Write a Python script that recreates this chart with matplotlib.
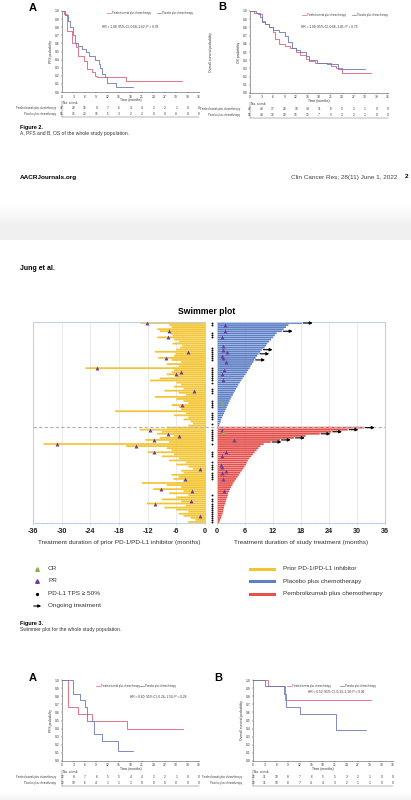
import numpy as np
import matplotlib
matplotlib.use("Agg")
import matplotlib.pyplot as plt
from matplotlib.lines import Line2D
from matplotlib.patches import FancyArrowPatch

plt.rcParams['font.family'] = ['Liberation Sans', 'DejaVu Sans']

# ---------------- swimmer plot data (rows from top to bottom) ----------------
# placebo plus chemotherapy, study treatment duration (months)
pbo_dur = [18.2, 15.3, 14.8, 14.3, 13.9, 12.8, 12.4, 12.0, 11.6, 11.2, 10.8, 10.5, 10.2,
           9.6, 9.3, 8.9, 8.6, 8.3, 8.0, 7.8, 7.5, 7.2, 7.0, 6.7, 6.4, 6.1, 5.8, 5.5,
           5.2, 4.9, 4.6, 4.4, 4.1, 3.9, 3.6, 3.4, 3.1, 2.9, 2.7, 2.5, 2.3, 2.1, 1.9,
           1.7, 1.5, 1.3, 1.1, 0.9, 0.8, 0.6, 0.5]
# prior PD-1/PD-L1 inhibitor duration (months)
pbo_prior = [13.5, 7.5, 7.0, 10.0, 9.5, 7.2, 6.8, 10.0, 6.5, 5.5, 6.8, 4.8, 5.2, 6.0, 10.5,
             6.2, 6.5, 9.8, 7.0, 5.0, 8.0, 5.5, 25.0, 6.5, 7.0, 8.0, 5.8, 9.5, 11.5, 6.0,
             5.0, 6.5, 4.5, 8.5, 5.5, 4.0, 10.5, 6.0, 4.5, 3.5, 7.0, 5.5, 5.0, 18.8, 4.0,
             6.5, 3.5, 4.5, 3.0, 2.5, 3.5]
pbo_ongoing = [0, 4, 13, 15, 18]
pbo_pr_rows = [1, 4, 7, 11, 13, 14, 16, 17, 19, 23, 25, 28]
pbo_pr_x = [1.7, 1.8, 1.0, 1.2, 1.3, 2.1, 1.0, 1.2, 2.0, 1.5, 1.0, 1.2]
pbo_cr_rows = [39]
pbo_cr_x = [1.0]
pbo_prior_pr_rows = [0, 4, 7, 14, 17, 22, 24, 25, 33, 40]
pbo_prior_pr_x = [-12.2, -7.6, -7.8, -3.5, -8.2, -22.7, -5.0, -6.0, -2.3, -4.9]
pbo_tps = [0, 1, 5, 6, 7, 12, 13, 14, 15, 16, 17, 18, 22, 23, 24, 25, 26, 27, 28, 29,
           32, 33, 34, 38, 39, 40, 41, 44, 45, 46, 47, 49]

# pembrolizumab plus chemotherapy
pem_dur = [31.5, 28.0, 24.5, 22.0, 19.0, 16.5, 13.5, 11.5, 10.0, 9.3, 8.9, 8.5, 8.1, 7.7,
           7.3, 6.9, 6.6, 6.4, 6.2, 5.9, 5.6, 5.3, 5.0, 4.7, 4.4, 4.1, 3.8, 3.5, 3.3, 3.0,
           2.8, 2.6, 2.4, 2.3, 2.2, 2.0, 1.9, 1.8, 1.6, 1.5, 1.4, 1.3, 1.2, 1.0, 0.9, 0.7, 0.5]
pem_prior = [8.0, 13.6, 9.0, 10.0, 6.5, 9.5, 12.5, 7.5, 33.8, 16.5, 8.0, 7.0, 12.0, 6.5,
             9.0, 5.5, 7.5, 4.0, 6.0, 3.5, 2.5, 5.0, 4.5, 7.0, 5.5, 6.6, 4.5, 13.2, 8.0,
             5.0, 10.8, 4.5, 7.5, 3.5, 6.0, 9.0, 5.0, 12.2, 4.0, 8.5, 6.0, 3.5, 5.5, 4.5,
             3.0, 2.0, 3.5]
pem_ongoing = [0, 1, 2, 3, 5, 6, 7]
pem_pr_rows = [1, 6, 12, 14, 18, 19, 21, 22, 25, 31]
pem_pr_x = [1.0, 3.7, 1.9, 1.0, 0.8, 1.0, 1.9, 1.0, 1.2, 1.4]
pem_cr_rows = [2]
pem_cr_x = [1.2]
pem_prior_pr_rows = [1, 3, 4, 6, 8, 9, 12, 20, 25, 30, 31, 36, 37, 43]
pem_prior_pr_x = [-11.5, -7.8, -5.4, -10.6, -31.0, -14.5, -10.6, -1.0, -4.2, -9.3, -2.8,
                  -3.0, -10.5, -1.0]
pem_tps = [1, 2, 3, 4, 5, 6, 8, 12, 13, 14, 17, 18, 19, 20, 22, 23, 24, 25, 33, 35, 36,
           37, 38, 39, 40, 41, 42, 43, 44, 45, 46]

swim_ticks_left = [-36, -30, -24, -18, -12, -6, 0]
swim_ticks_right = [0, 6, 12, 18, 24, 30, 36]

# ---------------- Kaplan-Meier data ----------------
km_months = list(range(0, 37, 3))
# Figure 2A, PFS whole population
a1_pem_t = [0, 0.5, 1.2, 2.6, 3.7, 4.3, 5.7, 6.7, 8.0, 8.7, 9.2, 16.8, 31.5]
a1_pem_s = [1.0, 0.96, 0.75, 0.6, 0.55, 0.45, 0.38, 0.28, 0.25, 0.2, 0.18, 0.13, 0.13]
a1_pbo_t = [0, 0.9, 1.5, 2.2, 3.0, 3.5, 4.2, 5.2, 6.3, 7.0, 8.7, 9.6, 10.0, 10.5, 11.4,
            11.8, 14.2, 18.6]
a1_pbo_s = [1.0, 0.95, 0.88, 0.8, 0.7, 0.6, 0.57, 0.53, 0.49, 0.45, 0.4, 0.35, 0.3, 0.22,
            0.18, 0.11, 0.06, 0.06]
a1_risk_pem = [47, 29, 16, 9, 7, 6, 4, 4, 2, 2, 1, 0, 0]
a1_risk_pbo = [51, 36, 23, 15, 5, 3, 2, 2, 0, 0, 0, 0, 0]
# Figure 2B, OS whole population
b1_pem_t = [0, 1.0, 2.0, 3.0, 4.0, 5.0, 6.0, 6.5, 7.5, 9.0, 10.5, 12.0, 13.0, 14.5, 15.5,
            17.0, 21.0, 22.5, 24.0, 31.6]
b1_pem_s = [1.0, 0.98, 0.96, 0.88, 0.84, 0.8, 0.74, 0.66, 0.6, 0.57, 0.55, 0.5, 0.46,
            0.42, 0.39, 0.36, 0.33, 0.3, 0.25, 0.25]
b1_pbo_t = [0, 1.5, 2.5, 3.0, 4.0, 5.0, 6.0, 7.5, 9.0, 10.0, 11.0, 12.0, 13.0, 14.5, 15.5,
            17.5, 20.0, 23.0, 30.0]
b1_pbo_s = [1.0, 0.97, 0.93, 0.87, 0.84, 0.8, 0.77, 0.74, 0.7, 0.62, 0.55, 0.52, 0.5,
            0.45, 0.4, 0.37, 0.35, 0.29, 0.29]
b1_risk_pem = [47, 43, 37, 28, 19, 14, 11, 6, 5, 2, 1, 0, 0]
b1_risk_pbo = [51, 48, 39, 29, 15, 12, 7, 5, 3, 2, 1, 0, 0]
# subgroup panels at the bottom of the page
a2_pem_t = [0, 1.7, 4.1, 7.9, 17.0, 31.7]
a2_pem_s = [1.0, 0.67, 0.58, 0.5, 0.4, 0.4]
a2_pbo_t = [0, 3.0, 4.8, 6.1, 6.7, 8.5, 10.5, 14.8, 18.6]
a2_pbo_s = [1.0, 0.83, 0.75, 0.67, 0.5, 0.33, 0.25, 0.125, 0.125]
a2_risk_pem = [12, 8, 7, 6, 5, 5, 4, 4, 2, 2, 1, 0, 0]
a2_risk_pbo = [12, 10, 6, 4, 1, 1, 1, 0, 0, 0, 0, 0, 0]
b2_pem_t = [0, 3.8, 8.1, 30.4]
b2_pem_s = [1.0, 0.92, 0.75, 0.75]
b2_pbo_t = [0, 3.0, 8.0, 8.5, 12.0, 21.4, 29.0]
b2_pbo_s = [1.0, 0.92, 0.83, 0.67, 0.58, 0.38, 0.38]
b2_risk_pem = [12, 11, 10, 8, 7, 6, 5, 5, 3, 2, 1, 0, 0]
b2_risk_pbo = [12, 11, 10, 8, 7, 4, 4, 3, 2, 1, 1, 0, 0]

# colours
YELLOW = '#f3c431'
BLUE = '#5f80c6'
RED = '#e5504c'
PURPLE = '#6a3d9a'
GREEN = '#86b24a'
FRAME = '#b9d0e8'
KM_RED = '#e0607a'
KM_BLUE = '#6a78b8'

W, H = 411, 800
fig = plt.figure(figsize=(W / 100, H / 100), dpi=100)
fig.patch.set_facecolor('white')


def fx(px):
    return px / W


def fy(py):
    return 1 - py / H


def add_ax(x0, y0, x1, y1):
    return fig.add_axes([x0 / W, 1 - y1 / H, (x1 - x0) / W, (y1 - y0) / H])


def km_panel(box, label, lpos, pem_t, pem_s, pbo_t, pbo_s, hr, hr_pos, ylab, risk_pem,
             risk_pbo, leg_x, leg_y, outer=None, lab_x=-1.5):
    ax = add_ax(*box)
    ax.step(pem_t, pem_s, where='post', color=KM_RED, lw=0.6, clip_on=False)
    ax.step(pbo_t, pbo_s, where='post', color=KM_BLUE, lw=0.6, clip_on=False)
    ax.set_xlim(0, 36)
    ax.set_ylim(0, 1.0)
    ax.set_xticks(km_months)
    ax.set_yticks(np.round(np.arange(0, 1.01, 0.1), 1))
    ax.tick_params(labelsize=2.4, length=1, width=0.3, pad=0.8, colors='#333333')
    for s in ['top', 'right']:
        ax.spines[s].set_visible(False)
    for s in ['left', 'bottom']:
        ax.spines[s].set_linewidth(0.4)
        ax.spines[s].set_color('#555555')
    ax.set_ylabel(ylab, fontsize=2.4, labelpad=1, color='#333333')
    tr = ax.get_xaxis_transform()
    ax.text(18, -0.095, 'Time (months)', fontsize=2.4, ha='center', va='center',
            transform=tr, color='#333333')
    ax.text(0.2, -0.14, 'No. at risk', fontsize=2.3, va='center', transform=tr,
            color='#333333')
    for m, v1, v2 in zip(km_months, risk_pem, risk_pbo):
        ax.text(m, -0.2, str(v1), fontsize=2.3, ha='center', va='center', transform=tr,
                color='#333333')
        ax.text(m, -0.27, str(v2), fontsize=2.3, ha='center', va='center', transform=tr,
                color='#333333')
    ax.text(lab_x, -0.2, 'Pembrolizumab plus chemotherapy', fontsize=1.9, ha='right',
            va='center', transform=tr, color='#444444')
    ax.text(lab_x, -0.27, 'Placebo plus chemotherapy', fontsize=1.9, ha='right',
            va='center', transform=tr, color='#444444')
    ax.plot([0, 0], [-0.11, -0.31], transform=tr, color='#555555', lw=0.3, clip_on=False)
    ax.plot([0, 36], [-0.31, -0.31], transform=tr, color='#555555', lw=0.3, clip_on=False)
    ax.text(hr_pos[0], hr_pos[1], hr, fontsize=2.3, transform=ax.transAxes, color='#333333')
    for xa, col, txt in [(leg_x[0], KM_RED, 'Pembrolizumab plus chemotherapy'),
                         (leg_x[1], KM_BLUE, 'Placebo plus chemotherapy')]:
        ax.plot([xa, xa + 0.03], [leg_y, leg_y], color=col, lw=0.5,
                transform=ax.transAxes, clip_on=False)
        ax.text(xa + 0.038, leg_y, txt, fontsize=1.85, va='center',
                transform=ax.transAxes, color='#444444')
    if outer:
        ax.text(outer[0], 0.5, outer[1], rotation=90, fontsize=2.4, ha='center',
                va='center', transform=ax.transAxes, color='#333333')
    fig.text(fx(lpos[0]), fy(lpos[1]), label, fontsize=8, fontweight='bold',
             ha='left', va='center')
    return ax


# ---------------- Figure 2 (top of page) ----------------
km_panel((62, 11, 199, 92), 'A', (29, 8), a1_pem_t, a1_pem_s, a1_pbo_t, a1_pbo_s,
         'HR = 1.08; 95% CI, 0.68\u20131.62; P = 0.78', (0.29, 0.79), 'PFS probability',
         a1_risk_pem, a1_risk_pbo, (0.33, 0.69), 0.975)
km_panel((250, 11, 388, 93), 'B', (218, 7), b1_pem_t, b1_pem_s, b1_pbo_t, b1_pbo_s,
         'HR = 1.09; 95% CI, 0.66\u20131.81; P = 0.73', (0.37, 0.8), 'OS probability',
         b1_risk_pem, b1_risk_pbo, (0.375, 0.74), 0.95,
         outer=(-0.28, 'Overall survival probability'), lab_x=-2.6)

fig.text(fx(20), fy(127), 'Figure 2.', fontsize=4, fontweight='bold', va='center')
fig.text(fx(20), fy(134), 'A, PFS and B, OS of the whole study population.', fontsize=3.6,
         va='center', color='#333333')
fig.text(fx(20), fy(177), 'AACRJournals.org', fontsize=4.6, fontweight='bold', va='center')
fig.text(fx(397), fy(177), 'Clin Cancer Res; 28(11) June 1, 2022', fontsize=4.6,
         ha='right', va='center', color='#444444')
fig.text(fx(405), fy(177), '2', fontsize=4.6, fontweight='bold', va='center')

# page break band between the two pages
band = np.concatenate([np.linspace(1.0, 0.955, 22), np.full(18, 0.94)]).reshape(-1, 1)
grad = fig.add_axes([0, fy(240), 1, 40 / H])
grad.imshow(band, cmap='gray', vmin=0, vmax=1, aspect='auto', extent=[0, 1, 0, 1])
grad.axis('off')
bot = fig.add_axes([0, 0, 1, 8 / H])
bot.imshow(np.linspace(1.0, 0.95, 8).reshape(-1, 1), cmap='gray', vmin=0, vmax=1,
           aspect='auto', extent=[0, 1, 0, 1])
bot.axis('off')

fig.text(fx(20), fy(268), 'Jung et al.', fontsize=5, fontweight='bold', va='center')

# ---------------- Figure 3, swimmer plot ----------------
n_pbo, n_pem = len(pbo_dur), len(pem_dur)
n_all = n_pbo + n_pem
rows_pbo = np.arange(n_pbo)
rows_pem = np.arange(n_pbo, n_all)

axL = add_ax(33, 322, 205, 523)
axR = add_ax(217, 322, 385, 523)

bar_kw = dict(height=0.85, lw=0, zorder=2, snap=False, antialiased=True)
axL.barh(rows_pbo, -np.array(pbo_prior), color=YELLOW, **bar_kw)
axL.barh(rows_pem, -np.array(pem_prior), color=YELLOW, **bar_kw)
axL.scatter(pbo_prior_pr_x, rows_pbo[pbo_prior_pr_rows], marker='^', s=8, color=PURPLE,
            lw=0, zorder=4)
axL.scatter(pem_prior_pr_x, rows_pem[pem_prior_pr_rows], marker='^', s=8, color=PURPLE,
            lw=0, zorder=4)

axR.barh(rows_pbo, pbo_dur, color=BLUE, **bar_kw)
axR.barh(rows_pem, pem_dur, color=RED, **bar_kw)
axR.scatter(pbo_pr_x, rows_pbo[pbo_pr_rows], marker='^', s=8, color=PURPLE, lw=0, zorder=4)
axR.scatter(pem_pr_x, rows_pem[pem_pr_rows], marker='^', s=8, color=PURPLE, lw=0, zorder=4)
axR.scatter(pbo_cr_x, rows_pbo[pbo_cr_rows], marker='^', s=8, color=GREEN, lw=0, zorder=4)
axR.scatter(pem_cr_x, rows_pem[pem_cr_rows], marker='^', s=8, color=GREEN, lw=0, zorder=4)

for durs, rows, ongoing in [(pbo_dur, rows_pbo, pbo_ongoing), (pem_dur, rows_pem, pem_ongoing)]:
    for r in ongoing:
        axR.annotate('', xy=(durs[r] + 2.3, rows[r]), xytext=(durs[r] + 0.3, rows[r]),
                     arrowprops=dict(arrowstyle='-|>', color='black', lw=0.8,
                                     mutation_scale=4, shrinkA=0, shrinkB=0),
                     zorder=5, annotation_clip=False)

# PD-L1 TPS >= 50% dots in the gap between the two panels
tps_rows = list(rows_pbo[pbo_tps]) + list(rows_pem[pem_tps])
axR.scatter([-1.1] * len(tps_rows), tps_rows, s=1.8, color='black', lw=0, clip_on=False,
            zorder=5)

for ax, lim, ticks in [(axL, (-36, 0), swim_ticks_left), (axR, (0, 36), swim_ticks_right)]:
    ax.set_xlim(*lim)
    ax.set_ylim(n_all - 0.5, -0.5)
    ax.set_xticks(ticks)
    ax.set_xticks(np.arange(lim[0], lim[1] + 0.1, 1), minor=True)
    ax.set_yticks([])
    ax.grid(axis='x', color='#e3e8ee', lw=0.6, zorder=0)
    ax.tick_params(axis='x', which='major', labelsize=5.2, length=1.5, width=0.5,
                   color=FRAME, pad=2, labelcolor='#222222')
    ax.tick_params(axis='x', which='minor', length=1, width=0.4, color=FRAME)
    for lbl in ax.get_xticklabels():
        lbl.set_fontweight('bold')
    for s in ax.spines.values():
        s.set_color(FRAME)
        s.set_linewidth(0.7)
    ax.axhline(n_pbo - 0.5, color='#b0b0b0', lw=0.8, ls=(0, (3, 2)), zorder=3)

axL.set_xticklabels([str(t) for t in swim_ticks_left])
axL.set_xlabel('Treatment duration of prior PD-1/PD-L1 inhibitor (months)', fontsize=4.6,
               color='#333333', labelpad=3.5)
axR.set_xlabel('Treatment duration of study treatment (months)', fontsize=4.6,
               color='#333333', labelpad=3.5)
fig.add_artist(Line2D([fx(205), fx(217)], [fy(322 + 201 * n_pbo / n_all)] * 2,
                      color='#b0b0b0', lw=0.8, ls=(0, (3, 2))))

fig.text(fx(207), fy(312), 'Swimmer plot', fontsize=6.2, fontweight='bold',
         ha='center', va='center')

# legend (left column: markers)
fig.add_artist(Line2D([fx(37)], [fy(569)], marker='^', color=GREEN, ms=2.6, lw=0))
fig.add_artist(Line2D([fx(37)], [fy(581)], marker='^', color=PURPLE, ms=2.6, lw=0))
fig.add_artist(Line2D([fx(37)], [fy(593.5)], marker='o', color='black', ms=1.3, lw=0))
fig.add_artist(FancyArrowPatch((fx(31), fy(606)), (fx(44), fy(606)), transform=fig.transFigure,
                               arrowstyle='-|>', mutation_scale=4, color='black', lw=0.8))
for yy, txt in [(569, 'CR'), (581, 'PR'), (593.5, 'PD-L1 TPS \u2265 50%'),
                (606, 'Ongoing treatment')]:
    fig.text(fx(48), fy(yy), txt, fontsize=4.6, va='center', color='#333333')

# legend (right column: bars)
for yy, col, txt in [(569, YELLOW, 'Prior PD-1/PD-L1 inhibitor'),
                     (581, BLUE, 'Placebo plus chemotherapy'),
                     (593.5, RED, 'Pembrolizumab plus chemotherapy')]:
    fig.add_artist(Line2D([fx(250), fx(274)], [fy(yy)] * 2, color=col, lw=2.2))
    fig.text(fx(283), fy(yy), txt, fontsize=4.6, va='center', color='#333333')

fig.text(fx(20), fy(623), 'Figure 3.', fontsize=4, fontweight='bold', va='center')
fig.text(fx(20), fy(630), 'Swimmer plot for the whole study population.', fontsize=3.6,
         va='center', color='#333333')

# ---------------- bottom Kaplan-Meier panels ----------------
km_panel((62, 680, 199, 761), 'A', (29, 678), a2_pem_t, a2_pem_s, a2_pbo_t, a2_pbo_s,
         'HR = 0.60; 95% CI, 0.24\u20131.50; P = 0.28', (0.5, 0.78), 'PFS probability',
         a2_risk_pem, a2_risk_pbo, (0.25, 0.57), 0.93)
km_panel((253, 680, 393, 761), 'B', (214, 678), b2_pem_t, b2_pem_s, b2_pbo_t, b2_pbo_s,
         'HR = 0.52; 95% CI, 0.13\u20132.10; P = 0.36', (0.39, 0.84),
         'Overall survival probability', b2_risk_pem, b2_risk_pbo, (0.24, 0.62), 0.93,
         lab_x=-2.8)

fig.savefig('out.png', dpi=100, facecolor='white')
